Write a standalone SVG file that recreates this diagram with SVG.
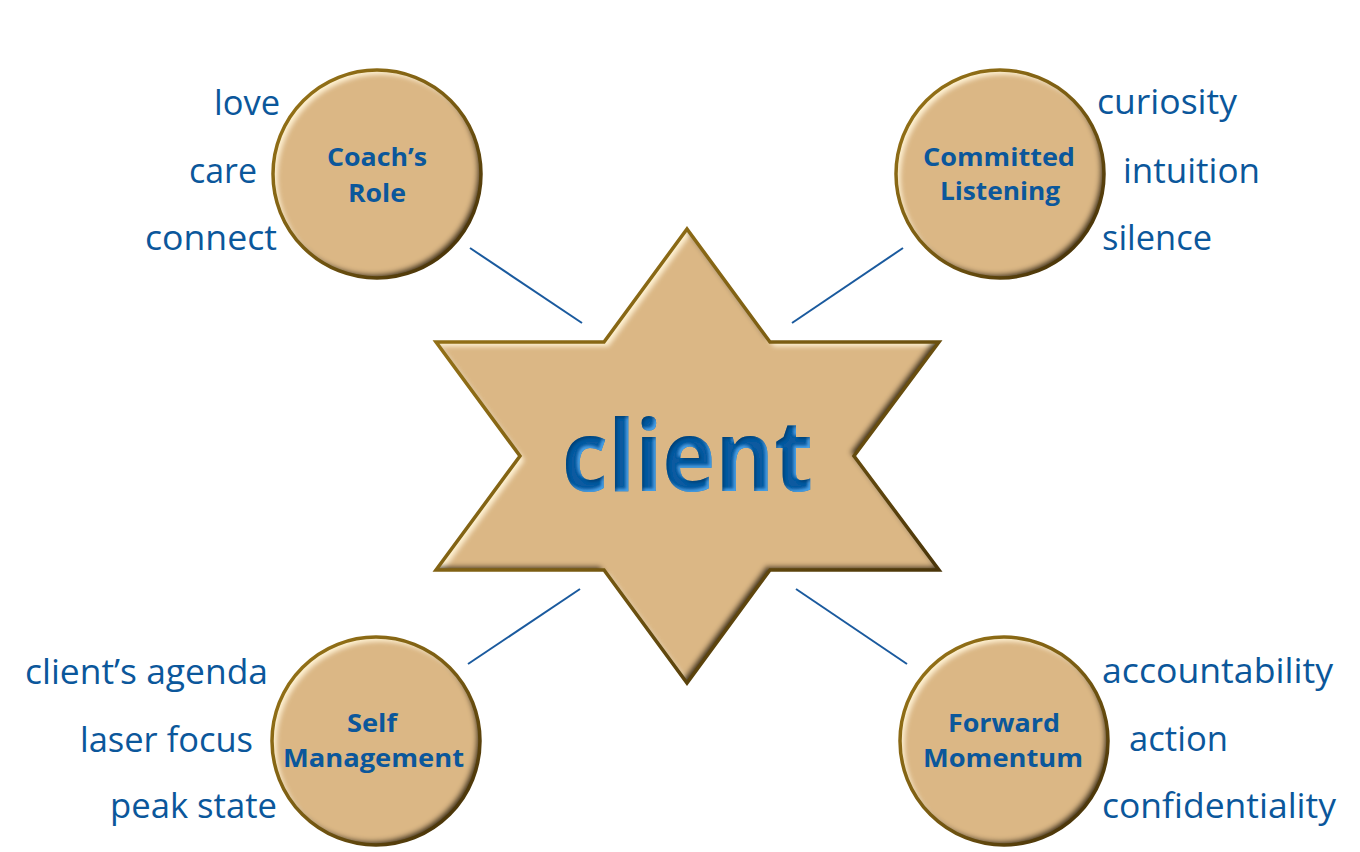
<svg xmlns="http://www.w3.org/2000/svg" width="1360" height="852" viewBox="0 0 1360 852">
<style>
.lbl{font-family:"Open Sans","Noto Sans","Liberation Sans",sans-serif;font-size:35px;fill:#0b579b}
.nl{font-family:"Open Sans","Noto Sans","Liberation Sans",sans-serif;font-size:25px;font-weight:bold;fill:#0b579b}
.conn{stroke:#1a5a9e;stroke-width:2;fill:none}
.shape{fill:#dbb785}
.edge{fill:none;stroke:url(#edgeGrad);stroke-width:3.5;stroke-linejoin:miter}
</style>
<defs>
<linearGradient id="edgeGrad" x1="0" y1="0" x2="1" y2="1">
<stop offset="0" stop-color="#9a7618"/>
<stop offset="0.5" stop-color="#7a5c12"/>
<stop offset="1" stop-color="#3a2806"/>
</linearGradient>
<filter id="bev" x="-10%" y="-10%" width="120%" height="120%">
<feComponentTransfer in="SourceAlpha" result="inv"><feFuncA type="table" tableValues="1 0"/></feComponentTransfer>
<feGaussianBlur in="inv" stdDeviation="2.5" result="invb"/>
<feOffset in="invb" dx="4" dy="4" result="o1"/>
<feFlood flood-color="#fff2d2" flood-opacity="1"/>
<feComposite in2="o1" operator="in" result="hl"/>
<feComposite in="hl" in2="SourceAlpha" operator="in" result="hl2"/>
<feOffset in="invb" dx="-4" dy="-4" result="o2"/>
<feFlood flood-color="#2e2004" flood-opacity="0.95"/>
<feComposite in2="o2" operator="in" result="sh"/>
<feComposite in="sh" in2="SourceAlpha" operator="in" result="sh2"/>
<feMerge><feMergeNode in="SourceGraphic"/><feMergeNode in="hl2"/><feMergeNode in="sh2"/></feMerge>
</filter>
<filter id="tbev" x="-10%" y="-20%" width="120%" height="140%">
<feComponentTransfer in="SourceAlpha" result="inv"><feFuncA type="table" tableValues="1 0"/></feComponentTransfer>
<feGaussianBlur in="inv" stdDeviation="1.8" result="invb"/>
<feOffset in="invb" dx="-2.5" dy="-2" result="o1"/>
<feFlood flood-color="#4aa6ee" flood-opacity="0.95"/>
<feComposite in2="o1" operator="in" result="hl"/>
<feComposite in="hl" in2="SourceAlpha" operator="in" result="hl2"/>
<feOffset in="invb" dx="2" dy="2" result="o2"/>
<feFlood flood-color="#06325e" flood-opacity="0.7"/>
<feComposite in2="o2" operator="in" result="sh"/>
<feComposite in="sh" in2="SourceAlpha" operator="in" result="sh2"/>
<feMerge><feMergeNode in="SourceGraphic"/><feMergeNode in="hl2"/><feMergeNode in="sh2"/></feMerge>
</filter>
</defs>
<rect width="1360" height="852" fill="#ffffff"/>

<g id="connectors">
<line class="conn" x1="470" y1="248" x2="582" y2="323"/>
<line class="conn" x1="903" y1="248" x2="792" y2="323"/>
<line class="conn" x1="580" y1="589" x2="468" y2="664"/>
<line class="conn" x1="796" y1="589" x2="907" y2="664"/>
</g>

<g id="client">
<polygon class="shape" filter="url(#bev)" points="687,229 770,342 939,342 854,456 939,570 770,570 687,683 604,570 436,570 520,456 436,342 604,342"/>
<polygon class="edge" points="687,229 770,342 939,342 854,456 939,570 770,570 687,683 604,570 436,570 520,456 436,342 604,342"/>
<text x="562" y="491" textLength="251" lengthAdjust="spacingAndGlyphs" filter="url(#tbev)" style="font-family:'Open Sans','Noto Sans','Liberation Sans',sans-serif;font-size:98px;font-weight:bold;fill:#0b5aa0">client</text>
</g>

<g id="coachs-role">
<circle class="shape" filter="url(#bev)" cx="377" cy="174" r="104"/>
<circle class="edge" cx="377" cy="174" r="104"/>
<text class="nl" x="327" y="166" textLength="100" lengthAdjust="spacingAndGlyphs">Coach’s</text>
<text class="nl" x="348" y="202" textLength="58" lengthAdjust="spacingAndGlyphs">Role</text>
<text class="lbl" x="214" y="115" textLength="66" lengthAdjust="spacingAndGlyphs">love</text>
<text class="lbl" x="189" y="183" textLength="68" lengthAdjust="spacingAndGlyphs">care</text>
<text class="lbl" x="145" y="250" textLength="132" lengthAdjust="spacingAndGlyphs">connect</text>
</g>

<g id="committed-listening">
<circle class="shape" filter="url(#bev)" cx="1000" cy="174" r="104"/>
<circle class="edge" cx="1000" cy="174" r="104"/>
<text class="nl" x="923" y="166" textLength="152" lengthAdjust="spacingAndGlyphs">Committed</text>
<text class="nl" x="940" y="200" textLength="120" lengthAdjust="spacingAndGlyphs">Listening</text>
<text class="lbl" x="1097" y="114" textLength="140" lengthAdjust="spacingAndGlyphs">curiosity</text>
<text class="lbl" x="1123" y="183" textLength="137" lengthAdjust="spacingAndGlyphs">intuition</text>
<text class="lbl" x="1102" y="250" textLength="110" lengthAdjust="spacingAndGlyphs">silence</text>
</g>

<g id="self-management">
<circle class="shape" filter="url(#bev)" cx="376" cy="741" r="104"/>
<circle class="edge" cx="376" cy="741" r="104"/>
<text class="nl" x="347" y="732" textLength="50" lengthAdjust="spacingAndGlyphs">Self</text>
<text class="nl" x="283" y="767" textLength="181" lengthAdjust="spacingAndGlyphs">Management</text>
<text class="lbl" x="25" y="684" textLength="243" lengthAdjust="spacingAndGlyphs">client’s agenda</text>
<text class="lbl" x="80" y="752" textLength="173" lengthAdjust="spacingAndGlyphs">laser focus</text>
<text class="lbl" x="110" y="818" textLength="167" lengthAdjust="spacingAndGlyphs">peak state</text>
</g>

<g id="forward-momentum">
<circle class="shape" filter="url(#bev)" cx="1004" cy="741" r="104"/>
<circle class="edge" cx="1004" cy="741" r="104"/>
<text class="nl" x="948" y="732" textLength="112" lengthAdjust="spacingAndGlyphs">Forward</text>
<text class="nl" x="923" y="767" textLength="160" lengthAdjust="spacingAndGlyphs">Momentum</text>
<text class="lbl" x="1102" y="683" textLength="231" lengthAdjust="spacingAndGlyphs">accountability</text>
<text class="lbl" x="1129" y="751" textLength="99" lengthAdjust="spacingAndGlyphs">action</text>
<text class="lbl" x="1102" y="818" textLength="234" lengthAdjust="spacingAndGlyphs">confidentiality</text>
</g>
</svg>
